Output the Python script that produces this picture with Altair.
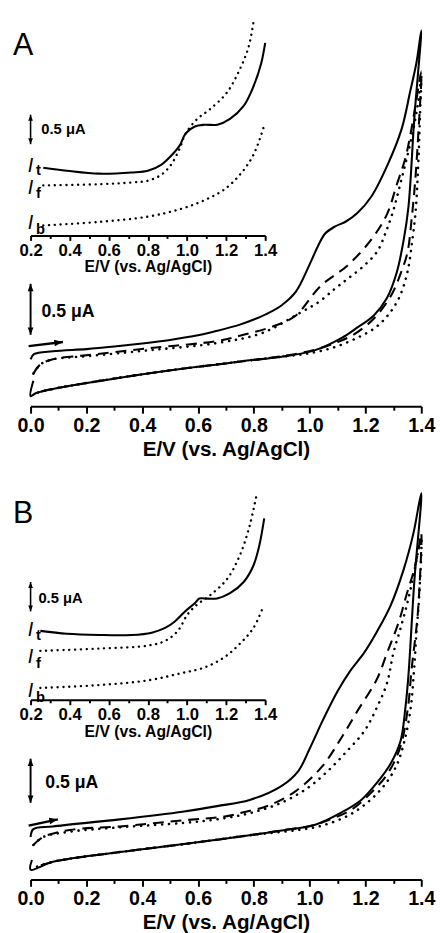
import altair as alt
import pandas as pd

FONT = "Liberation Sans"
AXIS_TITLE = "E/V (vs. Ag/AgCl)"
MAIN_TICKS = [0.0, 0.1, 0.2, 0.3, 0.4, 0.5, 0.6, 0.7, 0.8, 0.9, 1.0, 1.1, 1.2, 1.3, 1.4]
INSET_TICKS = [0.2, 0.3, 0.4, 0.5, 0.6, 0.7, 0.8, 0.9, 1.0, 1.1, 1.2, 1.3, 1.4]

# ---------------- Panel A : main CVs (E in V, I in uA, arbitrary offset) ----------------
A_sol_E = [0.0, 0.012, 0.08, 0.2, 0.3, 0.4, 0.5, 0.6, 0.67, 0.75, 0.8, 0.85, 0.9, 0.95, 1.0, 1.03, 1.055,
           1.09, 1.13, 1.17, 1.22, 1.28, 1.33, 1.36, 1.383, 1.40,
           1.375, 1.354, 1.337, 1.312, 1.277, 1.23, 1.17, 1.115, 1.02, 0.90, 0.785, 0.70, 0.55, 0.32,
           0.08, 0.02, 0.0, 0.01]
A_sol_I = [0.46, 0.51, 0.54, 0.56, 0.585, 0.615, 0.65, 0.695, 0.74, 0.80, 0.85, 0.91, 0.99, 1.12, 1.39, 1.57, 1.69,
           1.76, 1.81, 1.89, 2.05, 2.37, 2.72, 3.08, 3.37, 3.68,
           2.82, 1.95, 1.63, 1.31, 1.06, 0.89, 0.77, 0.67, 0.55, 0.485, 0.45, 0.42, 0.37, 0.28,
           0.17, 0.13, 0.10, 0.25]
A_dash_E = [0.01, 0.035, 0.08, 0.2, 0.43, 0.67, 0.763, 0.855, 0.946, 1.04, 1.136, 1.22, 1.277, 1.312, 1.343,
            1.365, 1.383, 1.40,
            1.39, 1.378, 1.366, 1.35, 1.326, 1.295, 1.25, 1.207, 1.15, 1.10, 1.02, 0.9, 0.785, 0.7, 0.55,
            0.32, 0.08, 0.02]
A_dash_I = [0.32, 0.41, 0.46, 0.50, 0.57, 0.64, 0.70, 0.77, 0.88, 1.18, 1.38, 1.63, 1.88, 2.17, 2.43,
            2.72, 3.01, 3.28,
            2.70, 2.20, 1.85, 1.50, 1.30, 1.10, 0.92, 0.80, 0.69, 0.63, 0.555, 0.49, 0.45, 0.42, 0.37,
            0.28, 0.17, 0.13]
A_dot_E = [0.01, 0.035, 0.08, 0.2, 0.43, 0.67, 0.832, 0.962, 1.032, 1.09, 1.137, 1.196, 1.243, 1.272, 1.30,
           1.325, 1.348, 1.372, 1.389, 1.40,
           1.395, 1.39, 1.38, 1.368, 1.35, 1.32, 1.28, 1.235, 1.17, 1.09, 1.0, 0.9, 0.785, 0.7, 0.55,
           0.32, 0.08, 0.02]
A_dot_I = [0.32, 0.41, 0.46, 0.49, 0.55, 0.62, 0.72, 0.91, 1.02, 1.15, 1.25, 1.38, 1.52, 1.70, 1.92,
           2.18, 2.43, 2.72, 2.98, 3.25,
           2.82, 2.43, 1.92, 1.63, 1.31, 1.06, 0.89, 0.77, 0.67, 0.58, 0.52, 0.485, 0.45, 0.42, 0.37,
           0.28, 0.17, 0.13]

# ---------------- Panel A : inset ----------------
A_It_E = [0.265, 0.386, 0.55, 0.717, 0.80, 0.868, 0.918, 0.963, 0.993, 1.04, 1.09, 1.155, 1.22, 1.29, 1.34, 1.38, 1.40]
A_It_I = [1.15, 1.10, 1.05, 1.07, 1.10, 1.20, 1.35, 1.53, 1.73, 1.85, 1.88, 1.88, 1.98, 2.20, 2.53, 2.93, 3.27]
A_If_E = [0.265, 0.55, 0.717, 0.80, 0.868, 0.918, 0.963, 0.993, 1.053, 1.12, 1.205, 1.27, 1.315, 1.34]
A_If_I = [0.85, 0.87, 0.90, 0.93, 1.03, 1.20, 1.48, 1.73, 1.98, 2.15, 2.43, 2.82, 3.20, 3.62]
A_Ib_E = [0.265, 0.55, 0.80, 0.968, 1.09, 1.19, 1.27, 1.34, 1.395]
A_Ib_I = [0.17, 0.23, 0.32, 0.45, 0.60, 0.78, 1.03, 1.37, 1.87]

# ---------------- Panel B : main CVs ----------------
B_sol_E = [0.0, 0.01, 0.08, 0.32, 0.55, 0.668, 0.785, 0.90, 0.96, 1.0, 1.05, 1.10, 1.143, 1.196, 1.242, 1.29,
           1.337, 1.372, 1.40,
           1.375, 1.354, 1.343, 1.326, 1.29, 1.24, 1.185, 1.115, 1.02, 0.90, 0.785, 0.668, 0.55, 0.32,
           0.08, 0.0, 0.005]
B_sol_I = [0.48, 0.57, 0.60, 0.68, 0.77, 0.83, 0.90, 1.06, 1.23, 1.48, 1.82, 2.13, 2.35, 2.57, 2.81, 3.10,
           3.51, 3.92, 4.37,
           3.37, 2.31, 1.94, 1.57, 1.31, 1.09, 0.90, 0.76, 0.62, 0.555, 0.50, 0.45, 0.40, 0.31,
           0.20, 0.11, 0.22]
B_dash_E = [0.01, 0.045, 0.14, 0.32, 0.55, 0.69, 0.763, 0.855, 0.95, 1.045, 1.115, 1.17, 1.24, 1.277, 1.32,
            1.347, 1.372, 1.39, 1.40,
            1.388, 1.365, 1.352, 1.325, 1.28, 1.22, 1.15, 1.066, 1.01, 0.9, 0.785, 0.55, 0.32, 0.08, 0.02]
B_dash_I = [0.39, 0.48, 0.56, 0.60, 0.67, 0.71, 0.76, 0.84, 1.00, 1.28, 1.61, 1.90, 2.26, 2.56, 2.92,
            3.22, 3.48, 3.73, 3.92,
            3.03, 2.37, 1.94, 1.50, 1.20, 0.98, 0.79, 0.67, 0.61, 0.555, 0.50, 0.40, 0.31, 0.20, 0.14]
B_dot_E = [0.01, 0.045, 0.14, 0.32, 0.55, 0.668, 0.785, 0.90, 0.995, 1.066, 1.136, 1.196, 1.24, 1.277, 1.30,
           1.33, 1.354, 1.372, 1.39, 1.40,
           1.392, 1.383, 1.374, 1.362, 1.34, 1.31, 1.266, 1.207, 1.136, 1.045, 0.96, 0.785, 0.55, 0.32,
           0.08, 0.02]
B_dot_I = [0.39, 0.48, 0.54, 0.59, 0.64, 0.68, 0.75, 0.87, 1.04, 1.23, 1.46, 1.68, 1.94, 2.22, 2.56,
           2.89, 3.18, 3.44, 3.73, 3.87,
           3.18, 2.81, 2.37, 1.94, 1.57, 1.28, 1.06, 0.87, 0.72, 0.61, 0.56, 0.50, 0.40, 0.31,
           0.20, 0.14]

# ---------------- Panel B : inset ----------------
B_It_E = [0.25, 0.386, 0.55, 0.717, 0.82, 0.888, 0.938, 0.99, 1.04, 1.063, 1.09, 1.154, 1.22, 1.29, 1.34, 1.37, 1.395]
B_It_I = [1.17, 1.12, 1.10, 1.10, 1.14, 1.22, 1.33, 1.50, 1.64, 1.72, 1.72, 1.72, 1.81, 2.00, 2.28, 2.62, 3.08]
B_If_E = [0.25, 0.55, 0.80, 0.888, 0.953, 1.003, 1.053, 1.12, 1.205, 1.27, 1.32, 1.355]
B_If_I = [0.83, 0.87, 0.92, 1.00, 1.17, 1.45, 1.62, 1.78, 2.05, 2.45, 2.95, 3.47]
B_Ib_E = [0.25, 0.55, 0.80, 0.968, 1.09, 1.19, 1.27, 1.34, 1.39]
B_Ib_I = [0.20, 0.25, 0.33, 0.45, 0.55, 0.72, 0.95, 1.22, 1.58]

UP = "M0,0 L0.7,1.8 L-0.7,1.8 Z"
DOWN = "M0,0 L0.7,-1.8 L-0.7,-1.8 Z"
RIGHT = "M0,0 L-1.8,-0.7 L-1.8,0.7 Z"
EVEN = "round(datum.value*10) % 2 == 0"


def df_xy(E, I):
    return pd.DataFrame({"E": E, "I": I, "k": list(range(len(E)))})


def make_axis(ticks, major, minor, lab, tit, lpad, tpad, offset=0):
    kw = dict(values=ticks, orient="bottom",
              labelExpr=EVEN + " ? format(datum.value, '.1f') : ''",
              tickSize={"condition": {"test": EVEN, "value": major}, "value": minor},
              tickWidth=2, tickColor="black", domainColor="black", domainWidth=2,
              labelFont=FONT, labelFontWeight="bold", labelFontSize=lab, labelColor="black",
              labelPadding=lpad, labelOverlap=False, labelFlush=False, grid=False,
              title=AXIS_TITLE, titleFont=FONT, titleFontWeight="bold", titleFontSize=tit,
              titleColor="black", titlePadding=tpad)
    if offset:
        kw["offset"] = offset
    return alt.Axis(**kw)


def build_group(xscale, yscale, axis, lines, rules, heads, texts):
    def X(f="E"):
        return alt.X(f, type="quantitative", scale=xscale, axis=axis)

    def Y(f="I"):
        return alt.Y(f, type="quantitative", scale=yscale, axis=None)

    layers = []
    for E, I, style in lines:
        layers.append(alt.Chart(df_xy(E, I)).mark_line(color="black", interpolate="catmull-rom", **style)
                      .encode(x=X(), y=Y(), order=alt.Order("k:Q")))
    for (e1, e2, i1, i2, w) in rules:
        d = pd.DataFrame({"E": [e1], "E2": [e2], "I": [i1], "I2": [i2]})
        layers.append(alt.Chart(d).mark_rule(color="black", strokeWidth=w)
                      .encode(x=X(), x2="E2:Q", y=Y(), y2="I2:Q"))
    for (e, i, shape, size, ang) in heads:
        d = pd.DataFrame({"E": [e], "I": [i]})
        layers.append(alt.Chart(d).mark_point(shape=shape, size=size, angle=ang, filled=True,
                                              color="black", opacity=1, strokeWidth=0)
                      .encode(x=X(), y=Y()))
    for (e, i, txt, style) in texts:
        d = pd.DataFrame({"E": [e], "I": [i], "t": [txt]})
        layers.append(alt.Chart(d).mark_text(font=FONT, color="black", align="left", **style)
                      .encode(x=X(), y=Y(), text="t:N"))
    return alt.layer(*layers)


SOLID = dict(strokeWidth=2.1)
DASHED = dict(strokeWidth=2.1, strokeDash=[11, 7])
DOTTED = dict(strokeWidth=2.6, strokeDash=[0.1, 7], strokeCap="round")
DOTTED_IN = dict(strokeWidth=2.4, strokeDash=[0.1, 5.8], strokeCap="round")
LETTER = dict(fontSize=31, baseline="alphabetic")
BAR_T = dict(fontSize=18, fontWeight="bold", baseline="middle")
BAR_TI = dict(fontSize=15, fontWeight="bold", baseline="middle")
ITAL = dict(fontSize=20, fontStyle="italic", baseline="alphabetic")
SUB = dict(fontSize=15, fontWeight="bold", baseline="alphabetic")

W, H = 398, 395


def panel(letter, main_max, sol, dash, dot, bar, bar_text, arrow, letter_I,
          in_px, in_offset, It, If, Ib, in_bar, in_bar_text, in_labels):
    main_x = alt.Scale(domain=[0, 1.4], nice=False, zero=False)
    main_y = alt.Scale(domain=[0, main_max], nice=False, zero=False)
    main_axis = make_axis(MAIN_TICKS, 7, 4, 20, 21, 3, 3)
    main = build_group(
        main_x, main_y, main_axis,
        lines=[(sol[0], sol[1], SOLID), (dash[0], dash[1], DASHED), (dot[0], dot[1], DOTTED)],
        rules=[(0.0, 0.0, bar[0], bar[1], 2), (arrow[0], arrow[1], arrow[2], arrow[3], 2.4)],
        heads=[(0.0, bar[1], UP, 70, 0), (0.0, bar[0], DOWN, 70, 0),
               (arrow[1], arrow[3], RIGHT, 95, arrow[4])],
        texts=[(-0.063, letter_I, letter, LETTER),
               (bar_text[0], bar_text[1], "0.5 μA", BAR_T)])
    in_x = alt.Scale(domain=[0.2, 1.4], range=[0, 239], nice=False, zero=False)
    in_y = alt.Scale(domain=[0, in_px / 60.0], range=[in_px, 0], nice=False, zero=False)
    in_axis = make_axis(INSET_TICKS, 5, 3, 17, 16, 2, 1, offset=in_offset)
    texts = [(in_bar_text[0], in_bar_text[1], "0.5 μA", BAR_TI)]
    for (e, i, t, sty) in in_labels:
        texts.append((e, i, t, ITAL if sty == "I" else SUB))
    inset = build_group(
        in_x, in_y, in_axis,
        lines=[(It[0], It[1], SOLID), (If[0], If[1], DOTTED_IN), (Ib[0], Ib[1], DOTTED_IN)],
        rules=[(0.2, 0.2, in_bar[0], in_bar[1], 1.6)],
        heads=[(0.2, in_bar[1], UP, 45, 0), (0.2, in_bar[0], DOWN, 45, 0)],
        texts=texts)
    return (alt.layer(main, inset)
            .resolve_scale(x="independent", y="independent")
            .resolve_axis(x="independent", y="independent")
            .properties(width=W, height=H))


panelA = panel("A", H / 104.0, (A_sol_E, A_sol_I), (A_dash_E, A_dash_I), (A_dot_E, A_dot_I),
               bar=(0.70, 1.20), bar_text=(0.039, 0.92), arrow=(-0.007, 0.116, 0.59, 0.63, 353),
               letter_I=3.44, in_px=221, in_offset=-174,
               It=(A_It_E, A_It_I), If=(A_If_E, A_If_I), Ib=(A_Ib_E, A_Ib_I),
               in_bar=(1.55, 2.05), in_bar_text=(0.255, 1.80),
               in_labels=[(0.186, 1.07, "I", "I"), (0.228, 1.02, "t", "s"),
                          (0.186, 0.70, "I", "I"), (0.228, 0.64, "f", "s"),
                          (0.186, 0.105, "I", "I"), (0.228, 0.03, "b", "s")])

panelB = panel("B", H / 90.0, (B_sol_E, B_sol_I), (B_dash_E, B_dash_I), (B_dot_E, B_dot_I),
               bar=(0.867, 1.367), bar_text=(0.053, 1.09), arrow=(-0.007, 0.098, 0.61, 0.68, 349),
               letter_I=4.03, in_px=212, in_offset=-183,
               It=(B_It_E, B_It_I), If=(B_If_E, B_If_I), Ib=(B_Ib_E, B_Ib_I),
               in_bar=(1.50, 2.00), in_bar_text=(0.24, 1.73),
               in_labels=[(0.186, 1.08, "I", "I"), (0.228, 1.01, "t", "s"),
                          (0.186, 0.62, "I", "I"), (0.228, 0.54, "f", "s"),
                          (0.186, 0.055, "I", "I"), (0.228, -0.04, "b", "s")])

chart = (alt.vconcat(panelA, panelB, spacing=28)
         .properties(padding={"left": 4, "top": 0, "right": 0, "bottom": 0})
         .configure_view(stroke="transparent"))

chart.save("out.html", embed_options={"renderer": "svg", "actions": False})
